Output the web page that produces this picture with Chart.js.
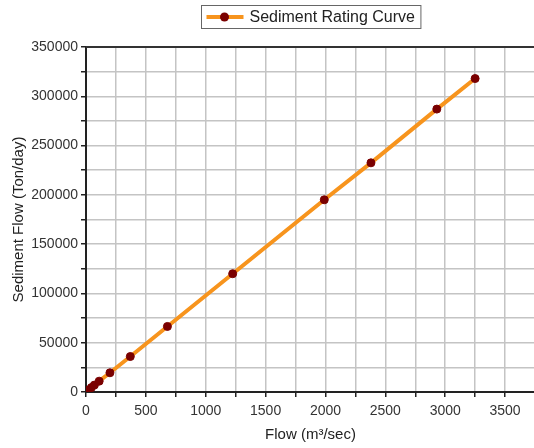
<!DOCTYPE html>
<html>
<head>
<meta charset="utf-8">
<script src="https://cdn.jsdelivr.net/npm/chart.js@4"></script>
<style>
  html, body { margin: 0; padding: 0; background: #fff; overflow: hidden; }
  #wrap { width: 541px; height: 448px; }
</style>
</head>
<body>
<div id="wrap"><canvas id="sedChart" width="541" height="448"></canvas></div>
<script>
// values
const flow = [20, 45, 70, 110, 200, 370, 680, 1225, 1990, 2380, 2930, 3250];
const sediment = [2000, 4500, 7000, 11000, 19500, 36000, 66500, 120000, 195000, 232500, 287000, 318000];
const seriesName = "Sediment Rating Curve";
const xTitle = "Flow (m\u00B3/sec)";
const yTitle = "Sediment Flow (Ton/day)";

const lineColor = "#f7941d";
const dotColor = "#7a0000";
const font = "'Liberation Sans', Arial, sans-serif";

// legend box + top frame line
const extras = {
    id: "extras",
    afterDraw(chart) {
        const ctx = chart.ctx;
        const a = chart.chartArea;
        ctx.save();
        // top border
        ctx.strokeStyle = "#333";
        ctx.lineWidth = 2;
        ctx.beginPath();
        ctx.moveTo(a.left, a.top);
        ctx.lineTo(a.right, a.top);
        ctx.stroke();

        // legend
        ctx.font = "16px " + font;
        const tw = ctx.measureText(seriesName).width;
        const w = 48 + tw + 6;
        const cx = (a.left + a.right) / 2;
        const x0 = Math.round(cx - w / 2) + 0.5;
        ctx.fillStyle = "#fff";
        ctx.fillRect(x0, 5.5, w, 23);
        ctx.strokeStyle = "#666";
        ctx.lineWidth = 1;
        ctx.strokeRect(x0, 5.5, w, 23);
        ctx.strokeStyle = lineColor;
        ctx.lineWidth = 4;
        ctx.beginPath();
        ctx.moveTo(x0 + 5, 17);
        ctx.lineTo(x0 + 42, 17);
        ctx.stroke();
        ctx.fillStyle = dotColor;
        ctx.beginPath();
        ctx.arc(x0 + 23, 17, 4.5, 0, Math.PI * 2);
        ctx.fill();
        ctx.fillStyle = "#222";
        ctx.textBaseline = "middle";
        ctx.fillText(seriesName, x0 + 48, 17.5);
        ctx.restore();
    }
};

new Chart(document.getElementById("sedChart"), {
    type: "line",
    data: {
        datasets: [{
            label: seriesName,
            data: flow.map((f, i) => ({ x: f, y: sediment[i] })),
            borderColor: lineColor,
            borderWidth: 4,
            pointBackgroundColor: dotColor,
            pointBorderColor: dotColor,
            pointBorderWidth: 1,
            pointRadius: 4,
            tension: 0
        }]
    },
    options: {
        responsive: false,
        animation: false,
        layout: { padding: { top: 47, right: 0, left: 0, bottom: 0 } },
        plugins: { legend: { display: false }, tooltip: { enabled: false } },
        scales: {
            x: {
                type: "linear",
                min: 0,
                max: 3750,
                afterFit(s) { s.height = 56; },
                border: { color: "#222", width: 2 },
                grid: { color: "#c4c4c4", lineWidth: 1.5, tickLength: 5, tickColor: "#222", tickWidth: 1.5 },
                ticks: {
                    stepSize: 250,
                    autoSkip: false,
                    maxRotation: 0,
                    color: "#333",
                    font: { family: font, size: 14 },
                    padding: 6,
                    callback: v => (v % 500 === 0 && v <= 3500) ? String(v) : ""
                },
                title: {
                    display: true,
                    text: xTitle,
                    color: "#222",
                    font: { family: font, size: 15 },
                    padding: { top: 10 }
                }
            },
            y: {
                min: 0,
                max: 350000,
                afterFit(s) { s.width = 86; },
                border: { color: "#222", width: 2 },
                grid: { color: "#c4c4c4", lineWidth: 1.5, tickLength: 5, tickColor: "#222", tickWidth: 1.5 },
                ticks: {
                    stepSize: 25000,
                    autoSkip: false,
                    color: "#333",
                    font: { family: font, size: 14 },
                    padding: 3,
                    callback: v => (v % 50000 === 0) ? String(v) : ""
                },
                title: {
                    display: true,
                    text: yTitle,
                    color: "#222",
                    font: { family: font, size: 15 },
                    padding: { top: 10, bottom: 0 }
                }
            }
        }
    },
    plugins: [extras]
});
</script>
</body>
</html>
